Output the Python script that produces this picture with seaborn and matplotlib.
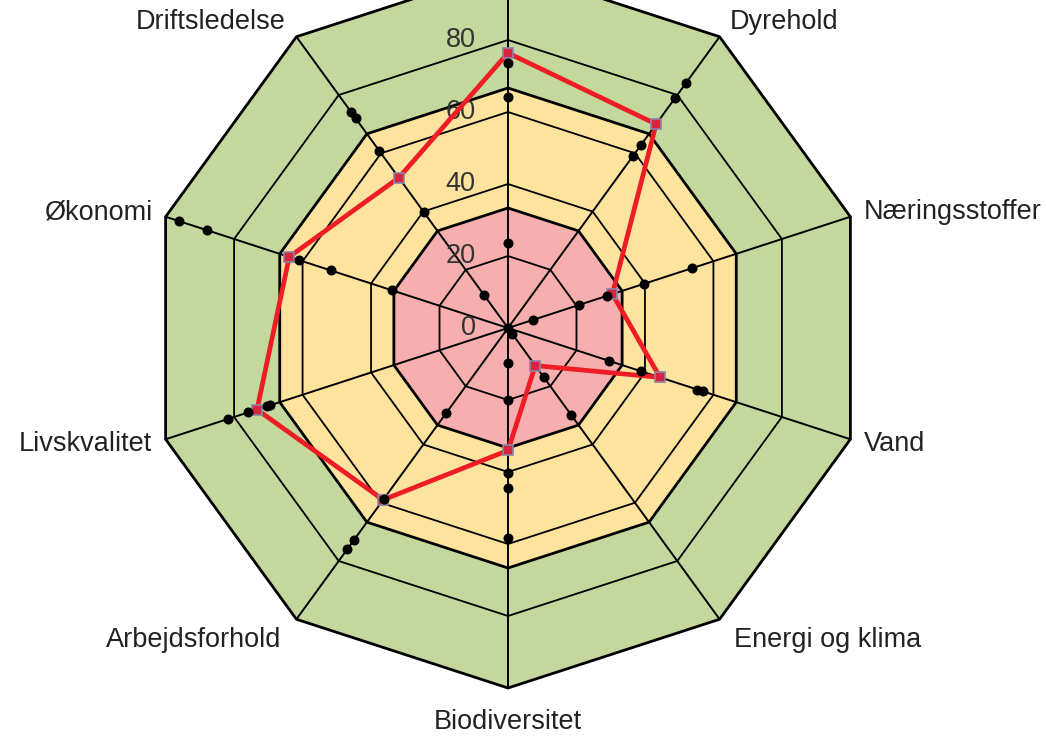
import numpy as np
import pandas as pd
import matplotlib
matplotlib.use("Agg")
import matplotlib.pyplot as plt
import seaborn as sns

# ---------------- data ----------------
categories = ["Jordbund", "Dyrehold", "Næringsstoffer", "Vand", "Energi og klima",
              "Biodiversitet", "Arbejdsforhold", "Livskvalitet", "Økonomi", "Driftsledelse"]
# the top category label lies outside the visible area of the reference
visible_label = [False, True, True, True, True, True, True, True, True, True]

farm_score = [76.4, 70.0, 30.5, 44.4, 12.9, 34.0, 59.0, 73.3, 63.9, 51.6]

dot_axis = [0, 0, 0, 0,
            1, 1, 1, 1,
            2, 2, 2, 2, 2,
            3, 3, 3, 3,
            4, 4, 4,
            5, 5, 5, 5, 5,
            6, 6, 6, 6,
            7, 7, 7, 7,
            8, 8, 8, 8, 8,
            9, 9, 9, 9, 9]
dot_value = [73.6, 64.2, 23.6, 0.0,
             84.0, 79.0, 63.0, 59.0,
             53.8, 39.8, 29.0, 20.6, 7.4,
             57.0, 55.3, 38.7, 29.6,
             29.9, 16.8, 2.0,
             58.3, 44.4, 40.3, 20.0, 9.7,
             75.9, 72.7, 58.6, 29.3,
             81.7, 75.8, 70.5, 69.5,
             96.0, 88.0, 61.0, 51.7, 33.8,
             74.0, 72.0, 60.8, 39.7, 11.5]

zone_bounds = [0, 100 / 3, 200 / 3, 100]
zone_colors = ["#F6AEAE", "#FDE39D", "#C4D79C"]
grid_rings = [20, 40, 60, 80]
tick_values = [0, 20, 40, 60, 80]

# ---------------- geometry helpers ----------------
n = len(categories)
angles = np.deg2rad(90 - 36 * np.arange(n))


def to_xy(idx, r):
    idx = np.asarray(idx)
    r = np.asarray(r, dtype=float)
    return r * np.cos(angles[idx]), r * np.sin(angles[idx])


def ring(r):
    idx = np.r_[np.arange(n), 0]
    return to_xy(idx, np.full(len(idx), r))


# ---------------- figure ----------------
sns.set_theme(style="white")
plt.rcParams["font.family"] = ["Liberation Sans", "DejaVu Sans"]

fig = plt.figure(figsize=(10.46, 7.40), dpi=100)
ax = fig.add_axes([0, 0, 1, 1])
ax.set_xlim(-508 / 3.6, 538 / 3.6)
ax.set_ylim(-412 / 3.6, 328 / 3.6)
ax.axis("off")

# zones (outer first)
for lo, hi, col in reversed(list(zip(zone_bounds[:-1], zone_bounds[1:], zone_colors))):
    x, y = ring(hi)
    ax.fill(x, y, color=col, zorder=1, lw=0)

# grid rings
for r in grid_rings:
    x, y = ring(r)
    ax.plot(x, y, color="black", lw=1.3, zorder=2)
for r in zone_bounds[1:]:
    x, y = ring(r)
    ax.plot(x, y, color="black", lw=2.0, zorder=2)

# spokes
for k in range(n):
    x, y = to_xy([k, k], [0, 100])
    ax.plot(x, y, color="black", lw=1.4, zorder=2)

# radial tick labels along the top axis
for v in tick_values:
    ax.text(-9.0, v, f"{v}", ha="right", va="center", fontsize=19.5,
            color="#333333", zorder=3)

# farm profile (red line with square markers)
idx_closed = list(range(n)) + [0]
fx, fy = to_xy(idx_closed, [farm_score[i] for i in idx_closed])
farm_df = pd.DataFrame({"x": fx, "y": fy})
sns.lineplot(data=farm_df, x="x", y="y", sort=False, color="#EE1C24",
             lw=3.4, ax=ax, zorder=4, estimator=None)

mx, my = to_xy(np.arange(n), farm_score)
ax.plot(mx, my, ls="none", marker="s", ms=7, mfc="#D8243E", mec="#8A84A8",
        mew=1.2, zorder=5)

# black dots (other results)
dx, dy = to_xy(dot_axis, dot_value)
dots_df = pd.DataFrame({"x": dx, "y": dy})
sns.scatterplot(data=dots_df, x="x", y="y", color="black", s=52,
                edgecolor="black", linewidth=0, ax=ax, zorder=6)

# category labels
label_cfg = {
    1: (105, "left", "center"),
    2: (104, "left", "center"),
    3: (104, "left", "center"),
    4: (107, "left", "center"),
    5: (109.5, "center", "center"),
    6: (107, "right", "center"),
    7: (104, "right", "center"),
    8: (104, "right", "center"),
    9: (105, "right", "center"),
}
for k, name in enumerate(categories):
    if not visible_label[k]:
        continue
    r, ha, va = label_cfg[k]
    lx, ly = to_xy(k, r)
    ax.text(float(lx), float(ly), name, ha=ha, va=va, fontsize=19.5,
            color="#222222", zorder=7)

ax.set_xlabel("")
ax.set_ylabel("")
fig.savefig("out.png", dpi=100)
